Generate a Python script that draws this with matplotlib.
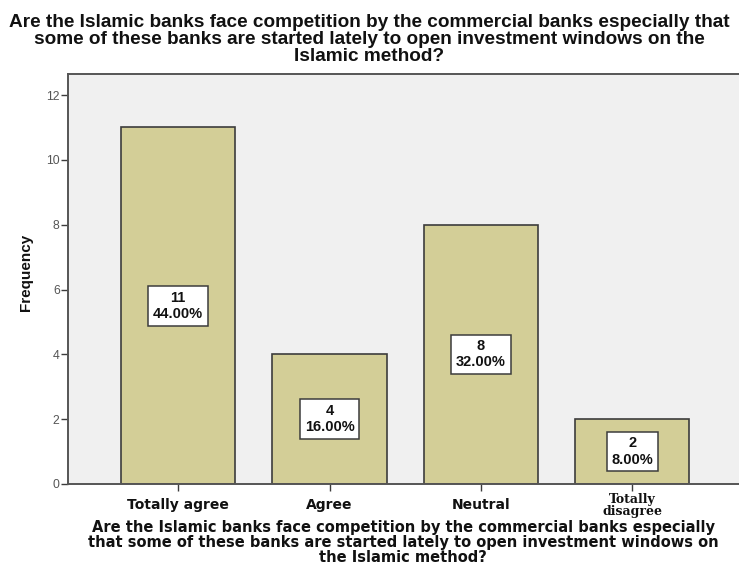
import matplotlib
matplotlib.use("Agg")
import matplotlib.pyplot as plt

# --- data ---------------------------------------------------------------
categories = ["Totally agree", "Agree", "Neutral", "Totally\ndisagree"]
counts = [11, 4, 8, 2]
percents = [44.00, 16.00, 32.00, 8.00]
y_ticks = [0, 2, 4, 6, 8, 10, 12]

QUESTION = ("Are the Islamic banks face competition by the commercial banks especially that\n"
            "some of these banks are started lately to open investment windows on the\n"
            "Islamic method?")
XLABEL = ("Are the Islamic banks face competition by the commercial banks especially\n"
          "that some of these banks are started lately to open investment windows on\n"
          "the Islamic method?")

# --- style --------------------------------------------------------------
BAR = "#d3ce97"
EDGE = "#3c3c3c"
PANEL = "#f0f0f0"
INK = "#111111"
TICKGREY = "#555555"
ARIAL = "Liberation Sans"
WIDE = "DejaVu Sans"
SERIF = "DejaVu Serif"

W, H = 739, 579
fig = plt.figure(figsize=(W / 100, H / 100), dpi=100)
ax = fig.add_axes([68 / W, 95 / H, 1 - 68 / W + 0.002, (484 - 74) / H])
ax.set_facecolor(PANEL)

x = list(range(len(categories)))
ax.bar(x, counts, width=0.755, color=BAR, edgecolor=EDGE, linewidth=1.2, zorder=2)

# count / percent boxes at half height of each bar
for xi, c, p in zip(x, counts, percents):
    ax.text(xi, c / 2, f"{c}\n{p:.2f}%", ha="center", va="center",
            fontsize=10.5, fontweight="bold", family=ARIAL, color=INK,
            linespacing=1.2, zorder=3,
            bbox=dict(boxstyle="square,pad=0.32", facecolor="white",
                      edgecolor=EDGE, linewidth=1.1))

ax.set_xlim(-0.728, 3.715)
ax.set_ylim(0, 12.65)
ax.set_yticks(y_ticks)
ax.set_yticklabels([str(t) for t in y_ticks], fontsize=8.8, color=TICKGREY, family=ARIAL)
ax.tick_params(axis="y", length=5, width=1, color=EDGE, pad=1)
ax.set_xticks(x)
ax.set_xticklabels([])
ax.tick_params(axis="x", length=5, width=1, color=EDGE)

for s in ["left", "top", "bottom"]:
    ax.spines[s].set_color("#555555")
    ax.spines[s].set_linewidth(1.4)
ax.spines["right"].set_visible(False)

# category labels; the two-line one is set in a bold serif
for xi, lab in zip(x, categories):
    if "\n" in lab:
        ax.text(xi, -0.27, lab, ha="center", va="top", fontsize=9.0,
                fontweight="bold", family=SERIF, color=INK, linespacing=0.95)
    else:
        ax.text(xi, -0.42, lab, ha="center", va="top", fontsize=10,
                fontweight="bold", family=WIDE, color=INK)

ax.set_ylabel("Frequency", fontsize=11, fontweight="bold", family=ARIAL, color=INK)
ax.yaxis.set_label_coords(-0.052, 0.515)

fig.text(0.5, 1 - 14 / H, QUESTION, ha="center", va="top", fontsize=13.7,
         fontweight="bold", family=ARIAL, color=INK, linespacing=1.0)
fig.text(403 / W, 1 - 520 / H, XLABEL, ha="center", va="top", fontsize=10.5,
         fontweight="bold", family=WIDE, color=INK, linespacing=1.0)

fig.savefig("out.png", dpi=100, facecolor="white")
